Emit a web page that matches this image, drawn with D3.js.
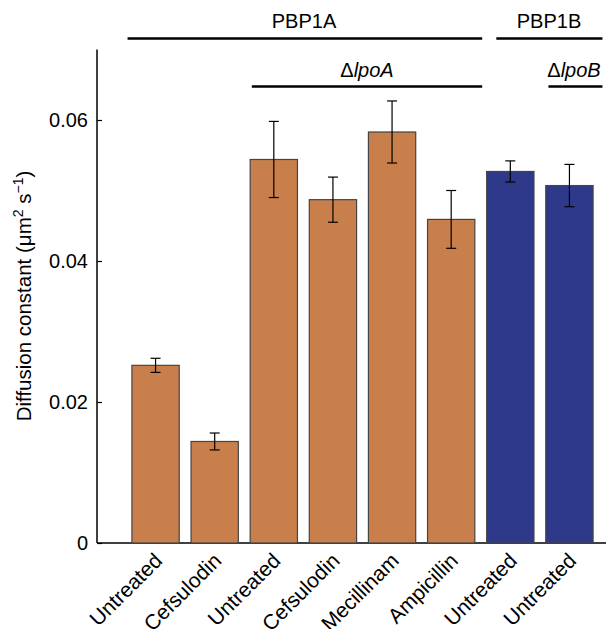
<!DOCTYPE html>
<html>
<head>
<meta charset="utf-8">
<script src="https://cdn.jsdelivr.net/npm/d3@7"></script>
<style>
  body { margin: 0; background: #fff; }
  text { font-family: "Liberation Sans", Arial, Helvetica, sans-serif; fill: #000; }
</style>
</head>
<body>
<div id="chart"></div>
<script>
// values
const labels = ['Untreated', 'Cefsulodin', 'Untreated', 'Cefsulodin', 'Mecillinam', 'Ampicillin', 'Untreated', 'Untreated'];
const values = [0.0252, 0.0144, 0.0544, 0.0487, 0.0583, 0.0459, 0.0527, 0.0507];
const errors = [0.0010, 0.0012, 0.0054, 0.0032, 0.0044, 0.0041, 0.0015, 0.0030];
const protein = ['PBP1A', 'PBP1A', 'PBP1A', 'PBP1A', 'PBP1A', 'PBP1A', 'PBP1B', 'PBP1B'];
const yTicks = [0, 0.02, 0.04, 0.06];

const width = 606;
const height = 629;
const colors = { PBP1A: '#C87F4C', PBP1B: '#2E3A89' };

const svg = d3.select('#chart').append('svg')
    .attr('width', width)
    .attr('height', height);

const idx = d3.range(values.length);
const x = d3.scaleBand()
    .domain(idx)
    .range([126, 599])
    .paddingInner(0.2)
    .paddingOuter(0.1);

const y = d3.scaleLinear()
    .domain([0, 0.07])
    .range([543, 49.5]);

// y axis
const yAxis = svg.append('g')
    .attr('transform', 'translate(97,0)')
    .call(d3.axisLeft(y).tickValues(yTicks).tickSize(-5).tickPadding(9)
        .tickFormat(d => d === 0 ? '0' : d3.format('.2f')(d)));
yAxis.select('.domain').attr('d', `M0,${y(0.07)}V${y(0)}`).attr('stroke-width', 1.5);
yAxis.selectAll('.tick line').attr('stroke-width', 1.2);
yAxis.selectAll('text').style('font-size', '20px');

// x axis line
svg.append('line')
    .attr('x1', 97).attr('x2', width)
    .attr('y1', y(0)).attr('y2', y(0))
    .attr('stroke', '#000').attr('stroke-width', 1.5);

// bars
svg.selectAll('.bar')
    .data(idx)
    .enter().append('rect')
    .attr('class', 'bar')
    .attr('x', i => x(i))
    .attr('width', x.bandwidth())
    .attr('y', i => y(values[i]))
    .attr('height', i => y(0) - y(values[i]))
    .attr('fill', i => colors[protein[i]])
    .attr('stroke', '#444')
    .attr('stroke-width', 1.2);

// error bars
const eb = svg.selectAll('.err')
    .data(idx)
    .enter().append('g')
    .attr('class', 'err')
    .attr('stroke', '#000')
    .attr('stroke-width', 1.2);
eb.append('line')
    .attr('x1', i => x(i) + x.bandwidth() / 2)
    .attr('x2', i => x(i) + x.bandwidth() / 2)
    .attr('y1', i => y(values[i] - errors[i]))
    .attr('y2', i => y(values[i] + errors[i]));
[1, -1].forEach(s => {
    eb.append('line')
        .attr('x1', i => x(i) + x.bandwidth() / 2 - 5)
        .attr('x2', i => x(i) + x.bandwidth() / 2 + 5)
        .attr('y1', i => y(values[i] + s * errors[i]))
        .attr('y2', i => y(values[i] + s * errors[i]));
});

// x labels, rotated
svg.selectAll('.xlab')
    .data(idx)
    .enter().append('text')
    .attr('class', 'xlab')
    .attr('text-anchor', 'end')
    .attr('transform', i => `translate(${x(i) + x.bandwidth() / 2 + 8},562) rotate(-45)`)
    .style('font-size', '21px')
    .text(i => labels[i]);

// y label
svg.append('text')
    .attr('transform', 'translate(31,296) rotate(-90)')
    .attr('text-anchor', 'middle')
    .style('font-size', '20.5px')
    .html('Diffusion constant (\u03bcm<tspan dy="-8" font-size="14px">2</tspan><tspan dy="8"> s</tspan><tspan dy="-8" font-size="14px">\u22121</tspan><tspan dy="8">)</tspan>');

// group brackets above the bars
const groups = [
    { label: 'PBP1A', from: 0, to: 5, l: -28, r: 31, ly: 38.5, ty: 28, italic: false, tx: 304 },
    { label: 'PBP1B', from: 6, to: 7, l: -14, r: 33, ly: 38.5, ty: 28, italic: false, tx: 549 },
    { label: 'lpoA', from: 2, to: 5, l: -22, r: 31, ly: 86.5, ty: 77, italic: true, tx: 367 },
    { label: 'lpoB', from: 7, to: 7, l: -21, r: 33, ly: 86.5, ty: 77, italic: true, tx: 574 }
];
const mid = i => x(i) + x.bandwidth() / 2;
groups.forEach(g => {
    svg.append('line')
        .attr('x1', mid(g.from) + g.l)
        .attr('x2', mid(g.to) + g.r)
        .attr('y1', g.ly).attr('y2', g.ly)
        .attr('stroke', '#000').attr('stroke-width', 2.5);
    const t = svg.append('text')
        .attr('x', g.tx).attr('y', g.ty)
        .attr('text-anchor', 'middle')
        .style('font-size', '20px');
    if (g.italic) {
        t.append('tspan').text('\u0394');
        t.append('tspan').style('font-style', 'italic').text(g.label);
    } else {
        t.text(g.label);
    }
});
</script>
</body>
</html>
